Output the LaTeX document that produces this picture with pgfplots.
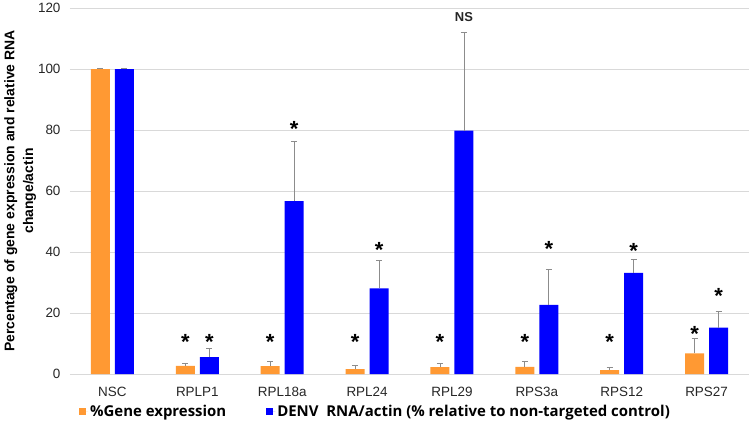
\documentclass[border=0pt]{standalone}
\usepackage{fontspec}
\setmainfont{Liberation Sans}
\newfontfamily\legfont{Open Sans}
\usepackage{pgfplots}
\pgfplotsset{compat=1.18}
\definecolor{cOrange}{RGB}{255,153,51}
\definecolor{cBlue}{RGB}{0,0,255}
\definecolor{gridc}{RGB}{217,217,217}
\definecolor{errc}{RGB}{140,140,140}
\begin{document}
\begin{tikzpicture}
\begin{axis}[
  scale only axis, width=679bp, height=366bp,
  xmin=-0.5, xmax=7.5, ymin=0, ymax=120,
  ytick={0,20,...,120},
  xtick={0,...,7},
  xticklabels={NSC,RPLP1,RPL18a,RPL24,RPL29,RPS3a,RPS12,RPS27},
  ymajorgrids, grid style={gridc, line width=0.8pt},
  axis line style={draw=none},
  major tick length=0pt,
  /pgf/number format/assume math mode=true,
  tick label style={font=\fontsize{13.5}{15}\selectfont, text=black!85},
  yticklabel style={xshift=-6bp},
  xticklabel style={yshift=-10bp},
  ylabel={Percentage of gene expression and relative RNA\\[4bp]change/actin},
  ylabel style={font=\bfseries\fontsize{14}{15}\selectfont, align=center, yshift=-5bp},
  legend style={draw=none, at={(0.45,-0.102)}, anchor=center, legend columns=2,
    font=\legfont\bfseries\fontsize{15}{16}\selectfont},
]
\addplot[ybar, bar width=19bp, bar shift=-12bp, fill=cOrange, draw=none,
  legend image code/.code={\fill[cOrange] (0bp,-3.5bp) rectangle (7bp,3.5bp); \path (0bp,0bp) -- (9bp,0bp);}]
  coordinates {(0,100) (1,2.7) (2,2.6) (3,1.6) (4,2.3) (5,2.4) (6,1.3) (7,6.8)};
\addlegendentry{\%Gene expression\rule{38bp}{0pt}}
\addplot[ybar, bar width=19bp, bar shift=12bp, fill=cBlue, draw=none,
  legend image code/.code={\fill[cBlue] (0bp,-3.5bp) rectangle (7bp,3.5bp); \path (0bp,0bp) -- (9bp,0bp);}]
  coordinates {(0,100) (1,5.6) (2,56.7) (3,28.1) (4,79.8) (5,22.7) (6,33.2) (7,15.2)};
\addlegendentry{DENV\ \ RNA/actin (\% relative to non-targeted control)}
% error bars (positive direction only), at the bar centres
\addplot[draw=none, mark=none, forget plot,
  error bars/.cd, y dir=plus, y explicit,
  error bar style={errc, line width=0.7pt},
  error mark options={errc, rotate=90, mark size=3bp, line width=0.7pt}]
  coordinates {
  (-0.1414,100) +- (0,0.2)
  (0.8586,2.7) +- (0,0.9)
  (1.8586,2.6) +- (0,1.6)
  (2.8586,1.6) +- (0,1.4)
  (3.8586,2.3) +- (0,1.3)
  (4.8586,2.4) +- (0,1.8)
  (5.8586,1.3) +- (0,0.8)
  (6.8586,6.8) +- (0,5.0)
  };
\addplot[draw=none, mark=none, forget plot,
  error bars/.cd, y dir=plus, y explicit,
  error bar style={errc, line width=0.7pt},
  error mark options={errc, rotate=90, mark size=3bp, line width=0.7pt}]
  coordinates {
  (0.1414,100) +- (0,0.2)
  (1.1414,5.6) +- (0,2.9)
  (2.1414,56.7) +- (0,19.5)
  (3.1414,28.1) +- (0,9.1)
  (4.1414,79.8) +- (0,32.3)
  (5.1414,22.7) +- (0,11.6)
  (6.1414,33.2) +- (0,4.3)
  (7.1414,15.2) +- (0,5.5)
  };
% significance stars
\addplot[draw=none, forget plot, nodes near coords, point meta=explicit symbolic,
  every node near coord/.style={anchor=center, text=black, yshift=-4.6bp,
    font=\bfseries\fontsize{22}{22}\selectfont}]
  coordinates {
  (0.8586,12)[*] (1.1414,12)[*]
  (1.8586,12)[*] (2.1414,81.8)[*]
  (2.8586,12)[*] (3.1414,42.3)[*]
  (3.8586,12)[*]
  (4.8586,12)[*] (5.1414,42.6)[*]
  (5.8586,12)[*] (6.1414,41.9)[*]
  (6.8586,14.8)[*] (7.1414,27.1)[*]
  };
\addplot[draw=none, forget plot, nodes near coords, point meta=explicit symbolic,
  every node near coord/.style={anchor=center, text=black!85,
    font=\bfseries\fontsize{13}{15}\selectfont}]
  coordinates {(4.1414,117)[NS]};
\end{axis}
\path (-70bp,-57bp) rectangle (680bp,372bp);
\end{tikzpicture}
\end{document}
